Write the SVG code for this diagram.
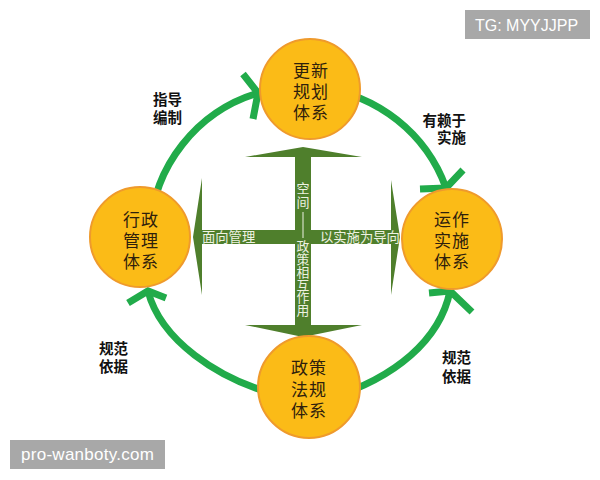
<svg xmlns="http://www.w3.org/2000/svg" width="600" height="480" viewBox="0 0 600 480">
<style>
.arc{fill:none;stroke:#21ab4a;stroke-width:7;}
.chev{fill:none;stroke:#21ab4a;stroke-width:7;stroke-linejoin:miter;}
.node circle{fill:#fbbb17;stroke:#ef9a2c;stroke-width:2;}
.nt{font-family:"Noto Sans CJK SC","Noto Sans",sans-serif;font-size:17px;fill:#2e200c;text-anchor:middle;letter-spacing:1px;}
.lbl{font-family:"Noto Sans CJK SC","Noto Sans",sans-serif;font-size:14.5px;font-weight:bold;fill:#111;}
.ct{font-family:"Noto Sans CJK SC","Noto Sans",sans-serif;font-size:13.3px;fill:#eef2e2;}
.vt{font-family:"Noto Sans CJK SC","Noto Sans",sans-serif;fill:#eef2e2;writing-mode:vertical-rl;}
.wm{font-family:"Liberation Sans","DejaVu Sans",sans-serif;fill:#ffffff;}
</style>
<rect width="600" height="480" fill="#ffffff"/>
<g id="connectors">
<path class="arc" d="M150 230 A152 152 0 0 1 258 93"/>
<polyline class="chev" points="243,74 258,93 253,119"/>
<path class="arc" d="M320 88 A153 153 0 0 1 446 188"/>
<polyline class="chev" points="420,189 446,188 463,170"/>
<path class="arc" d="M330 398 C395 378 440 340 450 291"/>
<polyline class="chev" points="429,293 450,291 472,312"/>
<path class="arc" d="M285 397 C215 380 160 338 148 291"/>
<polyline class="chev" points="128,303 148,291 166,298"/>
</g>
<g id="cross">
<polygon fill="#4f7f2c" points="295,157 245,157 303,147 362,157 311,157 311,230 391,230 391,180 400,237 391,295 391,244 311,244 311,325 362,325 303,337 245,325 295,325 295,244 202,244 202,295 193,237 202,178 202,230 295,230"/>
<text class="ct" x="202" y="242">面向管理</text>
<text class="ct" x="320" y="242">以实施为导向</text>
<text class="vt" x="303" y="182" font-size="13" letter-spacing="1">空间</text>
<text class="vt" x="303" y="240" font-size="12.8">政策相互作用</text>
<line x1="303" y1="212" x2="303" y2="238" stroke="#eef2e2" stroke-width="1"/>
</g>
<g id="node-top" class="node">
<circle cx="310" cy="89" r="50"/>
<text class="nt"><tspan x="311" y="77">更新</tspan><tspan x="311" y="98">规划</tspan><tspan x="311" y="119">体系</tspan></text>
</g>
<g id="node-left" class="node">
<circle cx="140" cy="237" r="50"/>
<text class="nt"><tspan x="141" y="226">行政</tspan><tspan x="141" y="247">管理</tspan><tspan x="141" y="268">体系</tspan></text>
</g>
<g id="node-right" class="node">
<circle cx="452" cy="239" r="50"/>
<text class="nt"><tspan x="452" y="226">运作</tspan><tspan x="452" y="247">实施</tspan><tspan x="452" y="268">体系</tspan></text>
</g>
<g id="node-bottom" class="node">
<circle cx="309" cy="387" r="51"/>
<text class="nt"><tspan x="309" y="374">政策</tspan><tspan x="309" y="396">法规</tspan><tspan x="309" y="417">体系</tspan></text>
</g>
<g id="labels">
<text class="lbl"><tspan x="153" y="105">指导</tspan><tspan x="153" y="123">编制</tspan></text>
<text class="lbl" text-anchor="end"><tspan x="466" y="126">有赖于</tspan><tspan x="466" y="143">实施</tspan></text>
<text class="lbl"><tspan x="99" y="354">规范</tspan><tspan x="99" y="372">依据</tspan></text>
<text class="lbl"><tspan x="442" y="363">规范</tspan><tspan x="442" y="382">依据</tspan></text>
</g>
<g id="watermarks">
<rect x="465" y="10" width="125" height="29" fill="#a8a8a8"/>
<text class="wm" x="475" y="31" font-size="16">TG: MYYJJPP</text>
<rect x="10" y="440" width="155" height="29" fill="#a8a8a8"/>
<text class="wm" x="21" y="460" font-size="17" textLength="133">pro-wanboty.com</text>
</g>
</svg>
